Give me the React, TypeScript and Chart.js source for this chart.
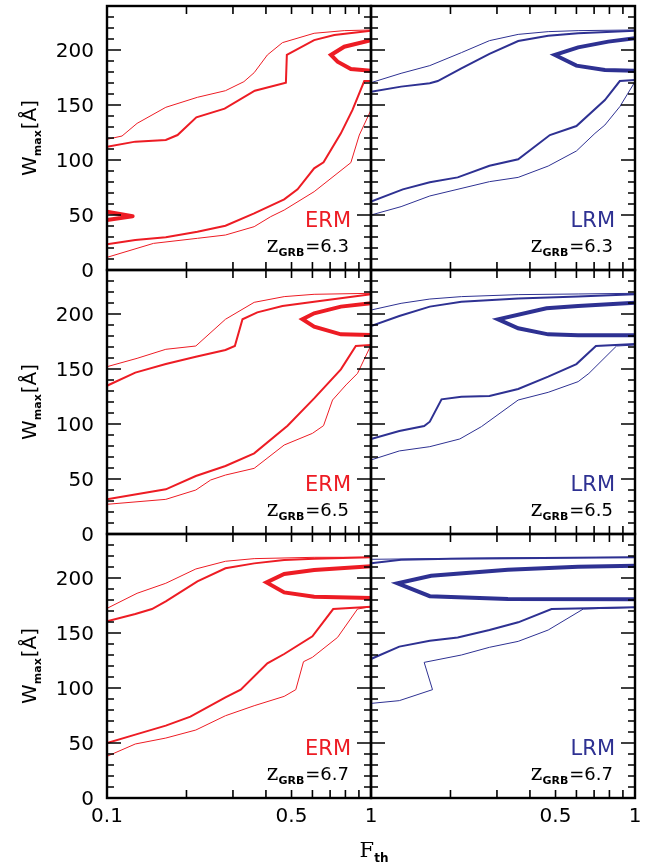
import React, { useEffect, useRef } from "react";
import { Chart, registerables } from "chart.js";

Chart.register(...registerables);

type Pt = [number, number];

// ---------- tick / label data ----------
const yTickValues = [0, 50, 100, 150, 200];
const xLabelValues = [0.1, 0.5, 1];
const xMinorValues = [0.2, 0.3, 0.4, 0.5, 0.6, 0.7, 0.8, 0.9];
const modelNames = ["ERM", "LRM"];
const redshifts = ["6.3", "6.5", "6.7"];

// ---------- ERM, z = 6.3 ----------
const ermA_thinUpper: Pt[] = [[0.1,118.8],[0.114,121.8],[0.13,133.3],[0.167,147.9],[0.22,157],[0.281,163],[0.33,171.2],[0.361,179.4],[0.405,195.5],[0.462,206.7],[0.609,215.2],[0.792,217.6],[1,218.2]];
const ermA_medUpper: Pt[] = [[0.1,112.1],[0.128,116.7],[0.167,118.2],[0.185,122.7],[0.218,138.8],[0.279,146.7],[0.363,163],[0.476,170.3],[0.48,195.5],[0.609,209],[0.726,213.6],[1,217.6]];
const ermA_thickC: Pt[] = [[1,209],[0.792,203],[0.705,195.5],[0.747,189.4],[0.839,182.7],[1,181.2]];
const ermA_wedge: Pt[] = [[0.1,53],[0.125,48.8],[0.1,45.5]];
const ermA_medLower: Pt[] = [[0.1,23.3],[0.128,27.3],[0.167,29.7],[0.22,34.8],[0.281,40.3],[0.361,51.5],[0.469,64.2],[0.527,73.3],[0.609,92.4],[0.661,97.9],[0.769,124.2],[0.851,145.5],[0.943,171.8],[1,171.8]];
const ermA_thinLower: Pt[] = [[0.1,11.5],[0.15,24.2],[0.22,28.8],[0.281,31.8],[0.361,39.4],[0.417,48.5],[0.469,54.5],[0.609,71.2],[0.839,97.6],[0.903,122.7],[1,145.5]];

// ---------- LRM, z = 6.3 ----------
const lrmA_thinUpper: Pt[] = [[0.1,170.3],[0.13,178.8],[0.167,185.8],[0.22,197.6],[0.281,208.5],[0.361,214.2],[0.469,216.7],[0.609,217.6],[1,218.2]];
const lrmA_medUpper: Pt[] = [[0.1,162.1],[0.13,166.7],[0.167,169.7],[0.179,171.8],[0.22,183.3],[0.281,196.4],[0.361,208.2],[0.469,213],[0.609,215.2],[1,217.6]];
const lrmA_thickC: Pt[] = [[1,210.6],[0.792,207.6],[0.609,202.4],[0.497,195.5],[0.6,185.8],[0.769,181.8],[1,181.2]];
const lrmA_medLower: Pt[] = [[0.1,62.1],[0.132,73.3],[0.167,79.7],[0.213,84.2],[0.281,94.8],[0.361,100.6],[0.476,122.7],[0.6,130.9],[0.769,154.5],[0.876,171.8],[1,172.7]];
const lrmA_thinLower: Pt[] = [[0.1,50],[0.13,57.6],[0.167,67.3],[0.281,80.3],[0.361,84.2],[0.469,94.5],[0.6,108.2],[0.705,124.2],[0.769,131.8],[0.876,148.5],[1,171.2]];

// ---------- ERM, z = 6.5 ----------
const ermB_thinUpper: Pt[] = [[0.1,152.1],[0.13,159.7],[0.167,167.9],[0.217,170.9],[0.281,195.2],[0.361,210.6],[0.469,215.8],[0.609,217.9],[1,218.8]];
const ermB_medUpper: Pt[] = [[0.1,134.8],[0.128,146.7],[0.167,154.5],[0.217,161.2],[0.281,167.3],[0.305,170.9],[0.326,195.2],[0.371,201.5],[0.462,207.3],[0.609,211.2],[1,217.9]];
const ermB_thickC: Pt[] = [[1,209.7],[0.769,206.7],[0.609,200.6],[0.55,195.2],[0.609,188.5],[0.769,181.5],[1,180.9]];
const ermB_medLower: Pt[] = [[0.1,31.5],[0.167,40.6],[0.217,52.7],[0.281,61.8],[0.361,73.3],[0.483,98.5],[0.609,123.3],[0.769,149.7],[0.876,170.9],[1,171.8]];
const ermB_thinLower: Pt[] = [[0.1,27],[0.167,31.5],[0.217,40],[0.247,49.1],[0.281,53.6],[0.361,59.7],[0.469,80.9],[0.6,91.5],[0.661,98.5],[0.715,121.8],[0.804,135.5],[0.889,146],[1,171.8]];

// ---------- LRM, z = 6.5 ----------
const lrmB_thinUpper: Pt[] = [[0.1,203.6],[0.13,209.7],[0.167,213.6],[0.22,215.8],[0.361,217.6],[0.609,218.2],[1,218.8]];
const lrmB_medUpper: Pt[] = [[0.1,189.1],[0.128,198.2],[0.167,206.7],[0.22,211.2],[0.361,214.2],[0.609,215.8],[1,217.9]];
const lrmB_thickC: Pt[] = [[1,210.3],[0.609,207.3],[0.462,205.2],[0.303,195.2],[0.361,187],[0.469,181.5],[0.609,180.6],[1,180.6]];
const lrmB_medLower: Pt[] = [[0.1,86.4],[0.128,93.6],[0.159,98.2],[0.167,102.1],[0.185,122.4],[0.22,124.8],[0.281,125.5],[0.361,131.8],[0.469,143],[0.6,154.5],[0.711,170.9],[1,172.7]];
const lrmB_thinLower: Pt[] = [[0.1,67.3],[0.128,75.5],[0.167,79.4],[0.217,86.4],[0.262,97.6],[0.361,121.8],[0.469,128.8],[0.609,138.5],[0.669,146],[0.851,170.9],[1,171.8]];

// ---------- ERM, z = 6.7 ----------
const ermC_thinUpper: Pt[] = [[0.1,172.4],[0.13,186.1],[0.167,195.2],[0.217,208.2],[0.281,215.2],[0.361,217.6],[0.609,218.8],[1,218.8]];
const ermC_medUpper: Pt[] = [[0.1,160.6],[0.128,167.3],[0.148,171.8],[0.167,178.8],[0.22,197],[0.281,208.8],[0.361,213.3],[0.469,216.4],[0.609,217.6],[1,218.8]];
const ermC_thickC: Pt[] = [[1,210.6],[0.609,207.3],[0.469,203.6],[0.402,196],[0.469,186.9],[0.609,183],[1,181.8]];
const ermC_medLower: Pt[] = [[0.1,50],[0.128,57.6],[0.167,65.8],[0.207,73.9],[0.281,91.5],[0.321,98.5],[0.405,122.4],[0.469,130.9],[0.6,147],[0.719,171.8],[1,173.9]];
const ermC_thinLower: Pt[] = [[0.1,37.9],[0.128,49.1],[0.167,54.5],[0.217,61.8],[0.281,74.8],[0.361,83.9],[0.469,92.4],[0.519,98.5],[0.555,123.9],[0.6,127.9],[0.747,146],[0.889,171.8],[1,173.9]];

// ---------- LRM, z = 6.7 ----------
const lrmC_thinUpper: Pt[] = [[0.1,217],[0.3,218.2],[1,218.8]];
const lrmC_medUpper: Pt[] = [[0.1,213.5],[0.13,216.5],[0.2,217.6],[1,218.8]];
const lrmC_thickC: Pt[] = [[1,211.2],[0.609,210.3],[0.33,207.5],[0.169,202.1],[0.126,195.2],[0.167,183.5],[0.33,181],[1,180.6]];
const lrmC_medLower: Pt[] = [[0.1,126.4],[0.128,137.6],[0.167,143],[0.213,146],[0.281,152.7],[0.361,159.7],[0.483,171.8],[1,173.3]];
const lrmC_thinLower: Pt[] = [[0.1,86],[0.128,88.5],[0.171,98.5],[0.159,123.3],[0.22,130],[0.281,137],[0.361,142.4],[0.469,152.7],[0.637,171.8],[1,173.3]];

// ---------- styles / layout ----------
const PAGE_W = 654;
const PAGE_H = 868;
const RED = "#ed1c24";
const BLUE = "#2e3192";
const THIN = 1;
const MED = 2;
const THICK = 4;

const colLeft = [107, 371];
const colRight = [371, 635];
const rowTop = [6, 270, 534];
const rowBottom = [270, 534, 798];

type LineSpec = { pts: Pt[]; width: number; join?: "miter" | "round" | "bevel" };

const panelLines: LineSpec[][][] = [
  [
    [
      { pts: ermA_thinUpper, width: THIN },
      { pts: ermA_medUpper, width: MED },
      { pts: ermA_thickC, width: THICK },
      { pts: ermA_wedge, width: THICK, join: "round" },
      { pts: ermA_medLower, width: MED },
      { pts: ermA_thinLower, width: THIN },
    ],
    [
      { pts: lrmA_thinUpper, width: THIN },
      { pts: lrmA_medUpper, width: MED },
      { pts: lrmA_thickC, width: THICK },
      { pts: lrmA_medLower, width: MED },
      { pts: lrmA_thinLower, width: THIN },
    ],
  ],
  [
    [
      { pts: ermB_thinUpper, width: THIN },
      { pts: ermB_medUpper, width: MED },
      { pts: ermB_thickC, width: THICK },
      { pts: ermB_medLower, width: MED },
      { pts: ermB_thinLower, width: THIN },
    ],
    [
      { pts: lrmB_thinUpper, width: THIN },
      { pts: lrmB_medUpper, width: MED },
      { pts: lrmB_thickC, width: THICK },
      { pts: lrmB_medLower, width: MED },
      { pts: lrmB_thinLower, width: THIN },
    ],
  ],
  [
    [
      { pts: ermC_thinUpper, width: THIN },
      { pts: ermC_medUpper, width: MED },
      { pts: ermC_thickC, width: THICK },
      { pts: ermC_medLower, width: MED },
      { pts: ermC_thinLower, width: THIN },
    ],
    [
      { pts: lrmC_thinUpper, width: THIN },
      { pts: lrmC_medUpper, width: MED },
      { pts: lrmC_thickC, width: THICK },
      { pts: lrmC_medLower, width: MED },
      { pts: lrmC_thinLower, width: THIN },
    ],
  ],
];

const SANS = "'DejaVu Sans', 'Liberation Sans', sans-serif";
const SERIF = "'DejaVu Serif', 'Liberation Serif', serif";

function drawYTitle(ctx: CanvasRenderingContext2D, cy: number) {
  ctx.save();
  ctx.translate(36, cy);
  ctx.rotate(-Math.PI / 2);
  const f1 = `20px ${SANS}`;
  const f2 = `bold 11px ${SANS}`;
  ctx.font = f1;
  const wW = ctx.measureText("W").width;
  ctx.font = f2;
  const wM = ctx.measureText("max").width;
  ctx.font = f1;
  const wB = ctx.measureText("[Å]").width;
  let x = -(wW + wM + 1 + wB) / 2;
  ctx.fillStyle = "#000";
  ctx.textAlign = "left";
  ctx.textBaseline = "alphabetic";
  ctx.font = f1;
  ctx.fillText("W", x, 0);
  x += wW;
  ctx.font = f2;
  ctx.fillText("max", x, 5);
  x += wM + 1;
  ctx.font = f1;
  ctx.fillText("[Å]", x, 0);
  ctx.restore();
}

function makeFramePlugin(row: number, col: number) {
  return {
    id: `frame_${row}_${col}`,
    afterDatasetsDraw(chart: any) {
      const ctx: CanvasRenderingContext2D = chart.ctx;
      const { left, right, top, bottom } = chart.chartArea;
      const xs = chart.scales.x;
      const ys = chart.scales.y;
      ctx.save();
      // inward ticks
      ctx.strokeStyle = "#000";
      ctx.lineWidth = 1.6;
      ctx.beginPath();
      for (let v = 10; v < 240; v += 10) {
        const py = ys.getPixelForValue(v);
        const len = v % 50 === 0 ? 14 : 7;
        ctx.moveTo(left, py);
        ctx.lineTo(left + len, py);
        ctx.moveTo(right, py);
        ctx.lineTo(right - len, py);
      }
      for (const f of xMinorValues) {
        const px = xs.getPixelForValue(f);
        ctx.moveTo(px, top);
        ctx.lineTo(px, top + 8);
        ctx.moveTo(px, bottom);
        ctx.lineTo(px, bottom - 8);
      }
      ctx.stroke();
      // frame
      ctx.lineWidth = 2.4;
      ctx.strokeRect(left, top, right - left, bottom - top);

      // model name
      const color = col === 0 ? RED : BLUE;
      ctx.fillStyle = color;
      ctx.textAlign = "right";
      ctx.textBaseline = "alphabetic";
      ctx.font = `21px ${SANS}`;
      ctx.fillText(modelNames[col], right - 20, bottom - 43);

      // z_GRB = value
      const eqText = "=" + redshifts[row];
      ctx.font = `18px ${SANS}`;
      const w3 = ctx.measureText(eqText).width;
      ctx.font = `bold 11px ${SANS}`;
      const w2 = ctx.measureText("GRB").width;
      ctx.font = `22px ${SERIF}`;
      const w1 = ctx.measureText("z").width;
      const x0 = right - 22 - w3 - w2 - w1 - 1;
      ctx.fillStyle = "#000";
      ctx.textAlign = "left";
      ctx.font = `22px ${SERIF}`;
      ctx.fillText("z", x0, bottom - 18);
      ctx.font = `bold 11px ${SANS}`;
      ctx.fillText("GRB", x0 + w1, bottom - 14);
      ctx.font = `18px ${SANS}`;
      ctx.fillText(eqText, x0 + w1 + w2 + 1, bottom - 18);

      // y tick labels + title on the left column
      if (col === 0) {
        ctx.font = `20px ${SANS}`;
        ctx.textAlign = "right";
        ctx.textBaseline = "alphabetic";
        for (const v of yTickValues) {
          const py = ys.getPixelForValue(v);
          ctx.fillText(String(v), left - 13, py + 7);
        }
        drawYTitle(ctx, (top + bottom) / 2);
      }
      // x tick labels on the bottom row
      if (row === 2) {
        ctx.font = `20px ${SANS}`;
        ctx.textAlign = "center";
        ctx.textBaseline = "alphabetic";
        for (const f of xLabelValues) {
          if (col === 1 && f === 0.1) continue;
          const px = xs.getPixelForValue(f);
          ctx.fillText(String(f), px, bottom + 24);
        }
        if (col === 0) {
          ctx.font = `21px ${SERIF}`;
          const wf = ctx.measureText("F").width;
          ctx.font = `bold 12px ${SANS}`;
          const wt = ctx.measureText("th").width;
          const fx = right + 3 - (wf + wt) / 2;
          ctx.textAlign = "left";
          ctx.font = `21px ${SERIF}`;
          ctx.fillText("F", fx, 857);
          ctx.font = `bold 12px ${SANS}`;
          ctx.fillText("th", fx + wf, 862);
        }
      }
      ctx.restore();
    },
  };
}

function Panel({ row, col }: { row: number; col: number }) {
  const ref = useRef<HTMLCanvasElement>(null);
  useEffect(() => {
    if (!ref.current) return;
    const color = col === 0 ? RED : BLUE;
    const lines = panelLines[row][col];
    const chart = new Chart(ref.current, {
      type: "line",
      data: {
        datasets: lines.map((l, i) => ({
          label: `${modelNames[col]} ${redshifts[row]} #${i}`,
          data: l.pts.map(([x, y]) => ({ x, y })),
          borderColor: color,
          backgroundColor: color,
          borderWidth: l.width,
          borderJoinStyle: l.join || "miter",
          pointRadius: 0,
          fill: false,
          tension: 0,
        })),
      },
      options: {
        animation: false,
        responsive: false,
        devicePixelRatio: 1,
        events: [],
        layout: {
          padding: {
            left: colLeft[col],
            right: PAGE_W - colRight[col],
            top: rowTop[row],
            bottom: PAGE_H - rowBottom[row],
          },
        },
        plugins: { legend: { display: false }, tooltip: { enabled: false } },
        scales: {
          x: { type: "logarithmic", min: 0.1, max: 1, display: false },
          y: { type: "linear", min: 0, max: 240, display: false },
        },
      } as any,
      plugins: [makeFramePlugin(row, col)],
    });
    return () => chart.destroy();
  }, [row, col]);
  return (
    <canvas
      ref={ref}
      width={PAGE_W}
      height={PAGE_H}
      style={{ position: "absolute", left: 0, top: 0, width: PAGE_W, height: PAGE_H }}
    />
  );
}

export default function App() {
  const cells: JSX.Element[] = [];
  for (let r = 0; r < 3; r++) {
    for (let c = 0; c < 2; c++) {
      cells.push(<Panel key={`${r}-${c}`} row={r} col={c} />);
    }
  }
  return (
    <div
      style={{
        position: "absolute",
        left: 0,
        top: 0,
        width: PAGE_W,
        height: PAGE_H,
        background: "#fff",
      }}
    >
      {cells}
    </div>
  );
}
